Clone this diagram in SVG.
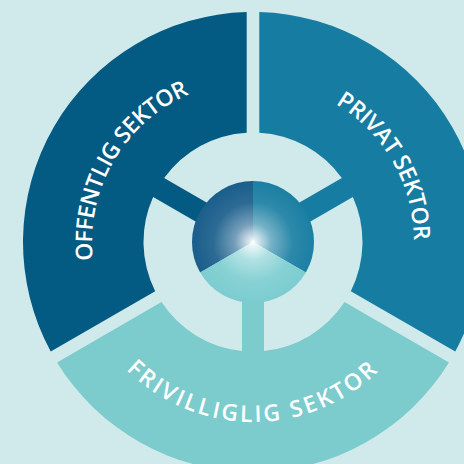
<svg xmlns="http://www.w3.org/2000/svg" xmlns:xlink="http://www.w3.org/1999/xlink" width="464" height="464" viewBox="0 0 464 464">
  <style>
    .lbl { font-family: "Open Sans", "Liberation Sans", sans-serif; font-weight: 600; font-size: 23px; fill: #ffffff; }
    .off { fill: #035a82; }
    .pri { fill: #167ca2; }
    .fri { fill: #7ccbcd; }
  </style>
  <defs>
    <path id="sector" d="M -195.96 -120.41 A 230 230 0 0 1 195.96 -120.41 L 91.52 -60.12 A 109.5 109.5 0 0 0 11 -108.94 L 11 -50 L -11 -50 L -11 -108.94 A 109.5 109.5 0 0 0 -91.52 -60.12 Z"/>
    <path id="wedge" d="M 0 0 L -52.83 -30.5 A 61 61 0 0 1 52.83 -30.5 Z"/>
    <path id="arcTop" d="M -158.55 -27.96 A 161 161 0 0 1 158.55 -27.96"/>
    <path id="arcBottom" d="M -177.27 31.26 A 180 180 0 0 0 177.27 31.26"/>
    <radialGradient id="glow" cx="0" cy="0" r="61" gradientUnits="userSpaceOnUse">
      <stop offset="0" stop-color="#ffffff" stop-opacity="1"/>
      <stop offset="0.06" stop-color="#ffffff" stop-opacity="0.85"/>
      <stop offset="0.3" stop-color="#ffffff" stop-opacity="0.4"/>
      <stop offset="0.65" stop-color="#ffffff" stop-opacity="0.08"/>
      <stop offset="1" stop-color="#ffffff" stop-opacity="0"/>
    </radialGradient>
  </defs>
  <rect width="464" height="464" fill="#d0eaeb"/>
  <g transform="translate(253 242)">
    <g id="offentlig-sektor">
      <use href="#sector" class="off" transform="rotate(-60)"/>
      <text class="lbl" letter-spacing="-0.6" transform="rotate(-60)"><textPath href="#arcTop" startOffset="50%" text-anchor="middle">OFFENTLIG SEKTOR</textPath></text>
    </g>
    <g id="privat-sektor">
      <use href="#sector" class="pri" transform="rotate(60)"/>
      <text class="lbl" letter-spacing="-0.5" transform="rotate(60)"><textPath href="#arcTop" startOffset="50%" text-anchor="middle">PRIVAT SEKTOR</textPath></text>
    </g>
    <g id="frivillig-sektor">
      <use href="#sector" class="fri" transform="rotate(180)"/>
      <text class="lbl" letter-spacing="2.6"><textPath href="#arcBottom" startOffset="50%" text-anchor="middle">FRIVILLIGLIG SEKTOR</textPath></text>
    </g>
    <g id="center">
      <use href="#wedge" fill="#1a5e8b" transform="rotate(-60)"/>
      <use href="#wedge" fill="#1b7fa3" transform="rotate(60)"/>
      <use href="#wedge" fill="#7ccdd0" transform="rotate(180)"/>
      <circle r="61" fill="url(#glow)"/>
    </g>
  </g>
</svg>
